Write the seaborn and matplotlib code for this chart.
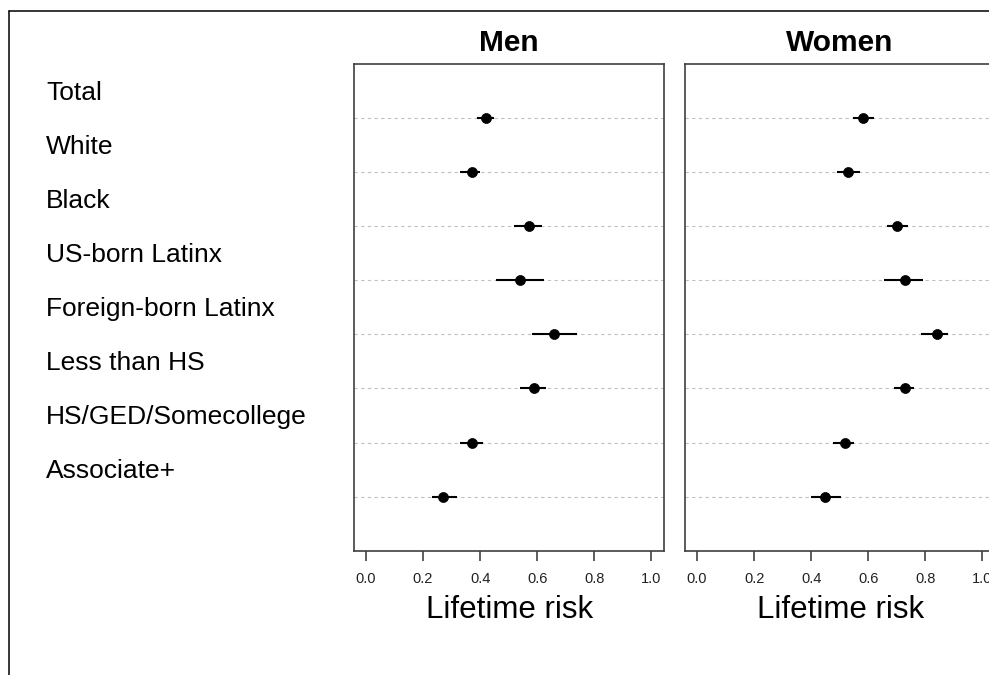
import numpy as np
import pandas as pd
import matplotlib
matplotlib.use('Agg')
import matplotlib.pyplot as plt
import matplotlib.transforms as mtransforms
from matplotlib.lines import Line2D
import seaborn as sns

sns.set_theme(style='white')
plt.rcParams['font.family'] = ['Liberation Sans', 'DejaVu Sans']

# data
groups = ['Total', 'White', 'Black', 'US-born Latinx', 'Foreign-born Latinx',
          'Less than HS', 'HS/GED/Somecollege', 'Associate+']
men_est = [0.42, 0.37, 0.57, 0.54, 0.66, 0.59, 0.37, 0.27]
men_lo = [0.39, 0.33, 0.52, 0.455, 0.58, 0.54, 0.33, 0.23]
men_hi = [0.45, 0.40, 0.615, 0.625, 0.74, 0.63, 0.41, 0.32]
women_est = [0.58, 0.53, 0.70, 0.73, 0.84, 0.73, 0.52, 0.45]
women_lo = [0.545, 0.49, 0.665, 0.655, 0.785, 0.69, 0.475, 0.40]
women_hi = [0.62, 0.57, 0.74, 0.79, 0.88, 0.76, 0.55, 0.505]
xticks = [0.0, 0.2, 0.4, 0.6, 0.8, 1.0]

pos = np.arange(len(groups), 0, -1)  # Total on top
men = pd.DataFrame({'group': groups, 'pos': pos, 'est': men_est, 'lo': men_lo, 'hi': men_hi})
women = pd.DataFrame({'group': groups, 'pos': pos, 'est': women_est, 'lo': women_lo, 'hi': women_hi})

fig = plt.figure(figsize=(9.89, 6.75), dpi=100)
fig.patch.set_facecolor('white')
ax1 = fig.add_axes([0.3579, 0.1841, 0.3138, 0.7211])
ax2 = fig.add_axes([0.6926, 0.1841, 0.3138, 0.7211])

for ax, df, title in [(ax1, men, 'Men'), (ax2, women, 'Women')]:
    for p in df['pos']:
        ax.axhline(p, color='#c0c0c0', lw=0.8, ls=(0, (3, 3)), zorder=1)
    ax.hlines(df['pos'], df['lo'], df['hi'], color='black', lw=1.5, zorder=2)
    sns.scatterplot(data=df, x='est', y='pos', ax=ax, color='black', s=52,
                    edgecolor='black', linewidth=0.5, zorder=3, legend=False)
    ax.set_xlim(-0.042, 1.045)
    ax.set_ylim(0, 9)
    ax.set_yticks([])
    ax.set_xticks(xticks)
    ax.set_xticklabels(['%.1f' % t for t in xticks], fontsize=10.5, color='#222222')
    ax.tick_params(axis='x', direction='out', length=7, width=1.1, color='#333333',
                   pad=8, bottom=True)
    ax.set_xlabel('Lifetime risk', fontsize=22.5, labelpad=7, color='black')
    ax.set_ylabel('')
    ax.set_title(title, fontsize=21.5, fontweight='bold', pad=9, color='black')
    for s in ax.spines.values():
        s.set_color('#404040')
        s.set_linewidth(1.2)

# row labels on the left
trans = mtransforms.blended_transform_factory(fig.transFigure, ax1.transData)
for g, p in zip(groups, pos):
    fig.text(0.0465, p + 0.47, g, transform=trans, fontsize=19, ha='left',
             va='center', color='black')

# outer frame (partly cropped in the original)
fx = 8.5 / 989
fy = 1 - 10.5 / 675
fig.add_artist(Line2D([fx, fx], [0, fy], transform=fig.transFigure, color='black', lw=1.1))
fig.add_artist(Line2D([fx, 1], [fy, fy], transform=fig.transFigure, color='black', lw=1.1))

fig.savefig('out.png', dpi=100)
